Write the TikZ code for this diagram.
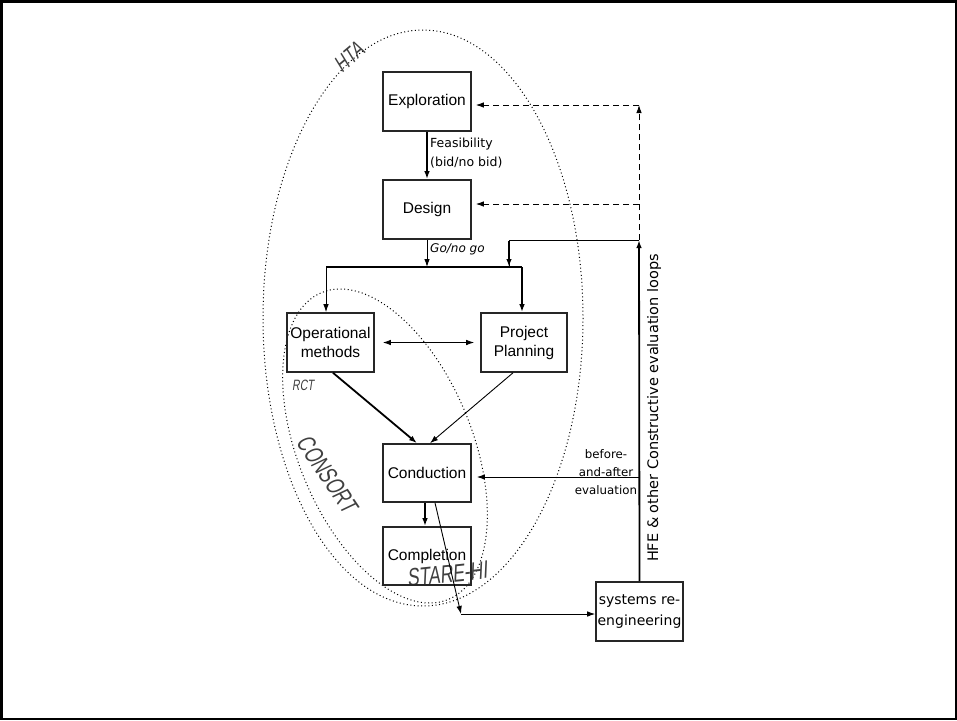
\documentclass[tikz,border=0pt]{standalone}
\usepackage{fontspec}
\setmainfont{Liberation Sans}
\newfontfamily\comicfont{DejaVu Sans}
\newfontfamily\handfont[FakeStretch=0.7,FakeSlant=0.15]{Liberation Sans}
\usetikzlibrary{arrows.meta}

\begin{document}
\begin{tikzpicture}[x=1pt,y=-1pt,
		>={Latex[length=8pt,width=5.5pt]},
		box/.style={draw=black!85,line width=1.6pt,minimum width=88,minimum height=59,inner sep=0pt,align=center,font=\fontsize{15.5}{19}\selectfont},
		note/.style={inner sep=0pt,font=\comicfont\fontsize{12.5}{19}\selectfont},
		hand/.style={inner sep=0pt,text=black!75,font=\handfont\fontsize{#1}{#1}\selectfont},
		fine/.style={line width=0.9pt},
		heavy/.style={line width=1.8pt},
		dashline/.style={line width=0.9pt,dash pattern=on 6pt off 4pt},
		ring/.style={line width=1pt,dash pattern=on 1pt off 2.6pt}]
			\useasboundingbox (0,0) rectangle (957,720);
			\draw[line width=2.5pt] (1.25,1.25) rectangle (955.75,718.75);
			
			% scopes
			
			\draw[ring] (423,318) ellipse [x radius=160, y radius=288];
			\draw[ring,rotate around={22.4:(385,446)}] (385,446) ellipse [x radius=87, y radius=166];
			\node[hand=23,rotate=40] (hta) at (349,57) {HTA};
			\node[hand=15] (rct) at (303,385) {RCT};
			\node[hand=25,rotate=-56] (consort) at (327,474) {CONSORT};
			\node[hand=25,rotate=6] (stare) at (447,574) {STARE-HI};
			
			% phases
			
			\node[box] (expl) at (427,101.5) {Exploration};
			\node[box] (design) at (427,209.5) {Design};
			\node[box,minimum width=87] (opm) at (330.5,342.5) {Operational\\methods};
			\node[box,minimum width=86] (plan) at (524,342.5) {Project\\Planning};
			\node[box,minimum height=58] (cond) at (427,473) {Conduction};
			\node[box,minimum height=58] (compl) at (427,556) {Completion};
			\node[box,minimum width=87,font=\comicfont\fontsize{14}{21}\selectfont] (sysre) at (639.5,611.5) {systems re-\\engineering};
			
			\node[note,anchor=west,align=left] (feas) at (430,153) {Feasibility\\(bid/no bid)};
			\node[note,anchor=west,font=\comicfont\itshape\fontsize{12}{14}\selectfont] (gono) at (430,249) {Go/no go};
			\node[note,align=center,font=\comicfont\fontsize{11.8}{18}\selectfont] (ba) at (606,472) {before-\\and-after\\evaluation};
			\node[note,rotate=90,font=\comicfont\fontsize{14.5}{16}\selectfont] (hfe) at (654,408) {HFE \& other Constructive evaluation loops};
			
			\coordinate (barL) at (326,267);
			\coordinate (barR) at (522,267);
			\coordinate (back) at (509,267);
			\coordinate (loop) at (639,240);
			\coordinate (top) at (639,105);
			\coordinate (mid) at (639,204);
			\coordinate (eval) at (639,477);
			\coordinate (junc) at (461,614);
			
			% flow
			
			\draw[heavy,->] (expl) -- (design);
			\draw[fine,->] (design.south) -- (design.south |- barL);
			\draw[heavy] (barL) -- (barR);
			\draw[fine,->] (barL) -- (barL |- opm.north);
			\draw[heavy,->] (barR) -- (barR |- plan.north);
			\draw[fine,<->,shorten <=8pt,shorten >=6pt] (opm) -- (plan);
			\draw[heavy,->] ([xshift=2.5]opm.south) -- ([xshift=-10]cond.north);
			\draw[fine,->] ([xshift=-11]plan.south) -- ([xshift=3]cond.north);
			\draw[heavy,->] ([xshift=-2]cond.south) -- ([xshift=-2]compl.north);
			\draw[fine,->] ([xshift=8]cond.south) -- (junc);
			\draw[fine,->] (junc) -- (junc -| sysre.west);
			
			% loops
			
			\draw[heavy,->] (sysre.north) -- (loop);
			\draw[fine] (loop) -| (back);
			\draw[heavy,->] ([yshift=-1]loop -| back) -- (back);
			\draw[dashline,->] (loop) -- (top);
			\draw[dashline,->,shorten >=4pt] (top) -- (top -| expl.east);
			\draw[dashline,->,shorten >=4pt] (mid) -- (mid -| design.east);
			\draw[fine,->,shorten >=5pt] (eval) -- (eval -| cond.east);
		\end{tikzpicture}
\end{document}
